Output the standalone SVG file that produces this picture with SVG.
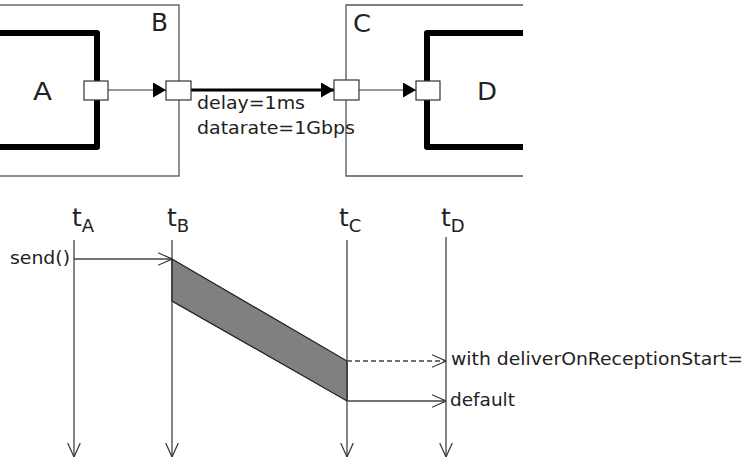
<svg xmlns="http://www.w3.org/2000/svg" width="745" height="473" viewBox="0 0 745 473">
<defs>
<style>
.box{fill:none;stroke:#555;stroke-width:1.3}
.mod{fill:none;stroke:#000;stroke-width:6;stroke-linejoin:round}
.port{fill:#fff;stroke:#333;stroke-width:1.2}
.thin{stroke:#333;stroke-width:1;fill:none}
.life{stroke:#444;stroke-width:1.3;fill:none}
.lbl{font-family:"DejaVu Sans",sans-serif;fill:#222}
</style>
<marker id="fa" viewBox="0 0 13 15" refX="13" refY="7.5" markerWidth="13" markerHeight="15" markerUnits="userSpaceOnUse" orient="auto"><path d="M0,0 L13,7.5 L0,15 z" fill="#000"/></marker>
<marker id="oa" viewBox="0 0 14 14" refX="14" refY="7" markerWidth="14" markerHeight="14" markerUnits="userSpaceOnUse" orient="auto"><path d="M0,0.7 L14,7 L0,13.3" fill="none" stroke="#333" stroke-width="1.2"/></marker>
</defs>
<g id="B"><rect class="box" x="-5" y="5" width="184" height="171"/><text class="lbl" x="151" y="31" font-size="24" textLength="17" lengthAdjust="spacingAndGlyphs">B</text></g>
<g id="C"><path class="box" d="M523,5 H346 V176 H523"/><text class="lbl" x="353" y="32" font-size="24" textLength="18" lengthAdjust="spacingAndGlyphs">C</text></g>
<g id="A"><path class="mod" d="M0,33 H97 V147 H0"/><text class="lbl" x="33" y="100" font-size="24" textLength="19" lengthAdjust="spacingAndGlyphs">A</text></g>
<g id="D"><path class="mod" d="M523,33 H427 V147 H523"/><text class="lbl" x="477" y="100" font-size="24" textLength="20" lengthAdjust="spacingAndGlyphs">D</text></g>
<g id="connectors">
<line class="thin" x1="108" y1="90" x2="166" y2="90" marker-end="url(#fa)"/>
<line x1="191" y1="90" x2="334" y2="90" stroke="#000" stroke-width="3" marker-end="url(#fa)"/>
<line class="thin" x1="359" y1="90" x2="416" y2="90" marker-end="url(#fa)"/>
</g>
<g id="ports">
<rect class="port" x="84" y="81" width="24" height="19"/>
<rect class="port" x="166" y="81" width="25" height="19"/>
<rect class="port" x="334" y="80" width="25" height="20"/>
<rect class="port" x="416" y="81" width="24" height="19"/>
</g>
<text class="lbl" x="197" y="109" font-size="17" textLength="108" lengthAdjust="spacingAndGlyphs">delay=1ms</text>
<text class="lbl" x="197" y="134" font-size="17" textLength="158" lengthAdjust="spacingAndGlyphs">datarate=1Gbps</text>
<g id="lifelines">
<line class="life" x1="74" y1="240" x2="74" y2="457" marker-end="url(#oa)"/>
<line class="life" x1="172" y1="240" x2="172" y2="457" marker-end="url(#oa)"/>
<line class="life" x1="347" y1="240" x2="347" y2="457" marker-end="url(#oa)"/>
<line class="life" x1="446" y1="237" x2="446" y2="457" marker-end="url(#oa)"/>
</g>
<g class="lbl">
<text x="72" y="226" font-size="25">t<tspan font-size="18" dy="6">A</tspan></text>
<text x="167" y="226" font-size="25">t<tspan font-size="18" dy="6">B</tspan></text>
<text x="339" y="226" font-size="25">t<tspan font-size="18" dy="6">C</tspan></text>
<text x="441" y="226" font-size="25">t<tspan font-size="18" dy="6">D</tspan></text>
</g>
<text class="lbl" x="10" y="264" font-size="17" textLength="60" lengthAdjust="spacingAndGlyphs">send()</text>
<line class="life" x1="74" y1="259" x2="172" y2="259" marker-end="url(#oa)"/>
<polygon points="172,259 347,361 347,401 172,301" fill="#808080" stroke="#222" stroke-width="1.3"/>
<line class="life" x1="347" y1="361" x2="446" y2="361" stroke-dasharray="5,3" marker-end="url(#oa)"/>
<line class="life" x1="347" y1="401" x2="446" y2="401" marker-end="url(#oa)"/>
<text class="lbl" x="451" y="365" font-size="17" textLength="292" lengthAdjust="spacingAndGlyphs">with deliverOnReceptionStart=</text>
<text class="lbl" x="450" y="406" font-size="17" textLength="65" lengthAdjust="spacingAndGlyphs">default</text>
</svg>
